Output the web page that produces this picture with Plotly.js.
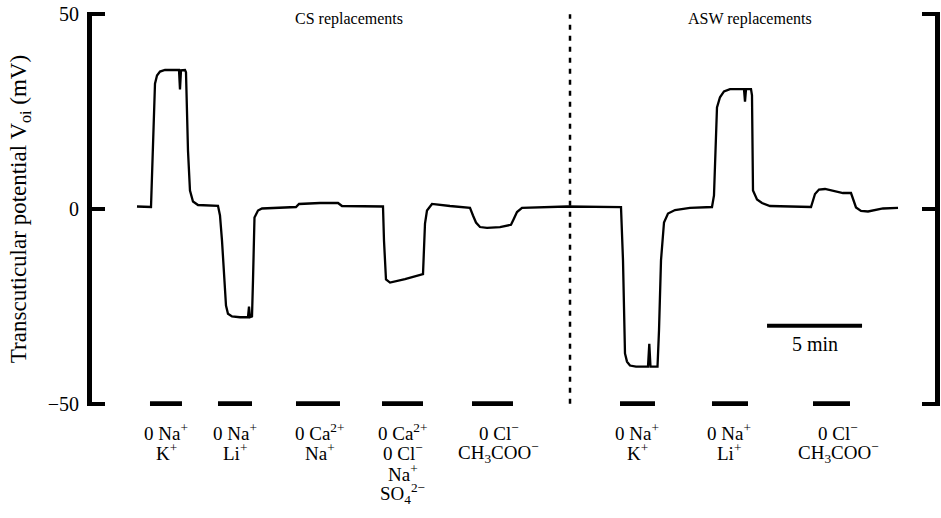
<!DOCTYPE html>
<html>
<head>
<meta charset="utf-8">
<script src="https://cdn.plot.ly/plotly-3.0.1.min.js"></script>
<style>html,body{margin:0;padding:0;background:#fff;}#chart{width:941px;height:518px;}</style>
</head>
<body>
<div id="chart"></div>
<script>
// Time in minutes, potential in mV (read from the recording)
const timeMin = [0, 0.737, 0.947, 1.053, 1.211, 1.474, 2.211, 2.263, 2.316, 2.526, 2.579, 2.684, 2.789, 2.947, 3.211, 4.263,
  4.368, 4.474, 4.684, 4.789, 5.0, 5.421, 5.842, 5.895, 5.947, 6.053, 6.105, 6.184, 6.368, 6.579, 8.368, 8.526, 9.632,
  10.579, 10.789, 12.947, 13.0, 13.105, 13.316, 14.105, 15.053, 15.158, 15.263, 15.526, 16.474, 17.526, 17.684, 17.842,
  18.053, 18.421, 19.105, 19.684, 19.842, 20.0, 20.263, 21.474, 22.632, 25.474, 25.579, 25.684, 25.789, 25.947, 26.263,
  26.895, 26.963, 27.026, 27.395, 27.474, 27.579, 27.737, 27.947, 28.316, 29.105, 30.263, 30.368, 30.526, 30.684, 30.895,
  31.211, 31.947, 32.0, 32.053, 32.316, 32.368, 32.421, 32.632, 32.895, 33.316, 35.474, 35.684, 35.895, 36.211, 37.158,
  37.579, 37.684, 37.842, 38.105, 38.474, 39.263, 40.053];
const potentialMv = [0.64, 0.51, 32.2, 34.3, 35.3, 35.7, 35.7, 30.7, 35.6, 35.7, 35.1, 15.0, 4.76, 1.93, 1.03, 0.82,
  -1.67, -8.1, -24.8, -26.9, -27.6, -27.8, -27.8, -25.1, -27.8, -27.6, -18.4, -2.2, -0.39, 0.13, 0.51, 1.29, 1.54,
  1.54, 0.77, 0.64, -8.1, -18.1, -18.9, -18.0, -16.7, -3.73, -0.39, 1.29, 0.77, 0.31, -1.67, -3.47,
  -4.63, -4.83, -4.63, -4.06, -2.44, -0.77, 0.31, 0.57, 0.64, 0.46, -13.2, -37.1, -39.2, -40.2, -40.5,
  -40.5, -34.6, -40.5, -40.5, -31.2, -13.2, -3.47, -1.16, -0.26, 0.31, 0.51, 3.47, 26.1, 28.7, 30.2,
  30.8, 30.8, 27.6, 30.8, 30.8, 29.2, 4.76, 2.44, 1.54, 0.77, 0.51, 3.86, 5.01, 5.14, 4.11,
  4.11, 2.70, 0.39, -0.51, -0.64, 0.13, 0.31];

// Solution application periods (minutes)
const barStart = [0.684, 4.263, 8.368, 12.895, 17.632, 25.421, 30.263, 35.579];
const barEnd   = [2.368, 6.053, 10.684, 15.053, 19.789, 27.263, 32.158, 37.526];
const barLevel = -50;

// Solution labels (one entry per text line)
const labelX = [1.53, 5.16, 9.63, 14.0, 19.05, 26.32, 31.16, 36.9];
const labelLines = [
  ['0 Na<sup>+</sup>', 'K<sup>+</sup>'],
  ['0 Na<sup>+</sup>', 'Li<sup>+</sup>'],
  ['0 Ca<sup>2+</sup>', 'Na<sup>+</sup>'],
  ['0 Ca<sup>2+</sup>', '0 Cl<sup>−</sup>', 'Na<sup>+</sup>', 'SO<sub>4</sub><sup>2−</sup>'],
  ['0 Cl<sup>−</sup>', 'CH<sub>3</sub>COO<sup>−</sup>'],
  ['0 Na<sup>+</sup>', 'K<sup>+</sup>'],
  ['0 Na<sup>+</sup>', 'Li<sup>+</sup>'],
  ['0 Cl<sup>−</sup>', 'CH<sub>3</sub>COO<sup>−</sup>']
];

// Section headings
const sectionX = [11.16, 32.26];
const sectionText = ['CS replacements', 'ASW replacements'];
const dividerX = 22.79;

// Scale bar (5 min)
const scaleStart = 33.16, scaleLen = 5, scaleLevel = -30;

// Y ticks
const yTickVals = [-50, 0, 50];
const yTickText = ['−50', '0', '50'];

const FONT = 'Liberation Serif, Times New Roman, serif';

const bx = [], by = [];
for (let i = 0; i < barStart.length; i++) {
  bx.push(barStart[i], barEnd[i], null);
  by.push(barLevel, barLevel, null);
}

const traces = [
  {x: timeMin, y: potentialMv, mode: 'lines', line: {color: '#000', width: 2.3}, hoverinfo: 'skip'},
  {x: bx, y: by, mode: 'lines', line: {color: '#000', width: 5}, cliponaxis: false, hoverinfo: 'skip'},
  {x: [dividerX, dividerX], y: [-50, 50], mode: 'lines', line: {color: '#000', width: 2.5, dash: '5px,6px'}, cliponaxis: false, hoverinfo: 'skip'},
  {x: [scaleStart, scaleStart + scaleLen], y: [scaleLevel, scaleLevel], mode: 'lines', line: {color: '#000', width: 4}, hoverinfo: 'skip'}
];

const annotations = [];
for (let i = 0; i < labelX.length; i++) {
  labelLines[i].forEach((ln, k) => {
    annotations.push({x: labelX[i], y: barLevel, xref: 'x', yref: 'y', text: ln, showarrow: false,
      xanchor: 'center', yanchor: 'middle', yshift: -(28 + 20.5 * k), align: 'center',
      font: {family: FONT, size: 19, color: '#000'}});
  });
}
for (let i = 0; i < sectionX.length; i++) {
  annotations.push({x: sectionX[i], y: 48.8, xref: 'x', yref: 'y', text: sectionText[i], showarrow: false,
    xanchor: 'center', yanchor: 'middle', font: {family: FONT, size: 16, color: '#000'}});
}
annotations.push({x: scaleStart + scaleLen / 2, y: scaleLevel, xref: 'x', yref: 'y', text: '5 min', showarrow: false,
  xanchor: 'center', yanchor: 'top', yshift: -5, font: {family: FONT, size: 20, color: '#000'}});

const layout = {
  width: 941, height: 518,
  margin: {l: 92, r: 6, t: 12, b: 112},
  paper_bgcolor: '#fff', plot_bgcolor: '#fff',
  showlegend: false,
  xaxis: {range: [-2.368, 42.0], visible: false, showgrid: false, zeroline: false},
  yaxis: {range: [-50.6, 50.6], tickvals: yTickVals, ticktext: yTickText, ticks: 'inside', ticklen: 13, tickwidth: 4,
    tickcolor: '#000', showline: true, linewidth: 5, linecolor: '#000', mirror: 'ticks', showgrid: false, zeroline: false,
    tickfont: {family: FONT, size: 20, color: '#000'}, ticklabelstandoff: 4,
    title: {text: 'Transcuticular potential V<sub>oi</sub> (mV)', font: {family: FONT, size: 23, color: '#000'}, standoff: 16}},
  annotations: annotations
};

Plotly.newPlot('chart', traces, layout, {displayModeBar: false, staticPlot: true});
</script>
</body>
</html>
